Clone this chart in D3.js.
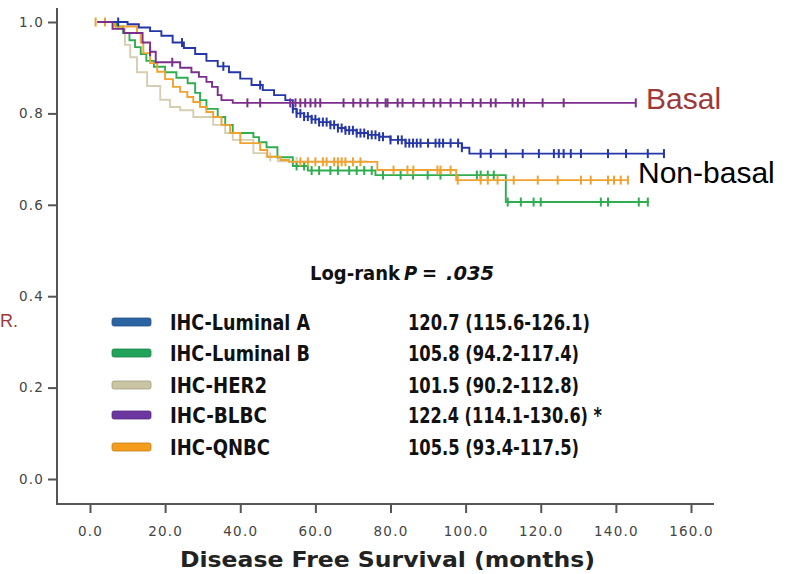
<!DOCTYPE html>
<html>
<head>
<meta charset="utf-8">
<script src="https://cdn.jsdelivr.net/npm/d3@7"></script>
<style>
  html, body { margin: 0; padding: 0; background: #fff; }
  svg { display: block; }
</style>
</head>
<body>
<svg id="chart" width="795" height="574"></svg>
<script>
// ---------- DATA ----------
const seriesNames = ["IHC-Luminal A", "IHC-Luminal B", "IHC-HER2", "IHC-BLBC", "IHC-QNBC"];
const meanLabels = ["120.7 (115.6-126.1)", "105.8 (94.2-117.4)", "101.5 (90.2-112.8)", "122.4 (114.1-130.6) *", "105.5 (93.4-117.5)"];
const xTicks = [0, 20, 40, 60, 80, 100, 120, 140, 160];
const yTicks = [0, 0.2, 0.4, 0.6, 0.8, 1.0];

// Luminal A
const lumATimes = [2, 10, 13, 16, 19, 22, 25, 28, 31, 34, 37, 40, 43, 46, 49, 52, 54, 55, 57, 59, 61, 64, 66, 68, 71, 74, 77, 80, 84, 99, 101, 153];
const lumASurv  = [1.0, 0.995, 0.988, 0.98, 0.97, 0.955, 0.943, 0.93, 0.915, 0.903, 0.89, 0.876, 0.862, 0.851, 0.84, 0.829, 0.81, 0.80, 0.793, 0.787, 0.781, 0.775, 0.768, 0.763, 0.757, 0.753, 0.749, 0.742, 0.735, 0.725, 0.712, 0.712];
const lumACens  = [7.5, 24.5, 35.5, 45.3, 54, 55, 56, 57, 58, 59, 60, 61, 62, 63, 64, 65, 66, 67, 68, 69, 70, 71, 72, 73, 74, 75, 76, 77, 78, 80, 82, 83, 84, 85, 86, 87, 88, 90, 92, 93, 94, 96, 98, 99, 104, 106.7, 110.7, 115.2, 119.5, 123.5, 124.8, 126.1, 128, 130.7, 137.9, 142.7, 148.5, 152.8];

// Luminal B
const lumBTimes = [2, 7, 8.8, 10.5, 12, 13.5, 15, 17, 20, 23, 26, 28, 29.3, 31, 34, 36, 38, 43.5, 45, 47, 49.9, 54, 58, 76, 110.7, 148.8];
const lumBSurv  = [1.0, 0.99, 0.976, 0.96, 0.945, 0.93, 0.915, 0.902, 0.89, 0.878, 0.866, 0.845, 0.829, 0.81, 0.792, 0.775, 0.757, 0.748, 0.737, 0.726, 0.704, 0.685, 0.675, 0.665, 0.606, 0.606];
const lumBCens  = [55, 57, 59, 61, 64, 66, 69, 71, 73, 75, 78, 82.7, 86, 89.9, 93.3, 103, 104, 105.9, 107.5, 111.2, 114.7, 118.1, 120, 136, 137.9, 146.1, 148.5];

// HER2
const her2Times = [2, 7.5, 9.3, 10.7, 12.5, 15.2, 18.7, 21.3, 24, 27.5, 32.8, 36, 38, 43.5, 47, 50, 74];
const her2Surv  = [1.0, 0.985, 0.95, 0.923, 0.89, 0.86, 0.83, 0.814, 0.807, 0.792, 0.775, 0.757, 0.742, 0.713, 0.705, 0.695, 0.695];
const her2Cens  = [48, 55];

// BLBC
const blbcTimes = [2, 6, 9, 14, 16, 17.5, 24, 27, 29, 31, 32.5, 34, 35, 38, 145.3];
const blbcSurv  = [1.0, 0.985, 0.976, 0.955, 0.935, 0.912, 0.90, 0.89, 0.88, 0.869, 0.858, 0.84, 0.829, 0.823, 0.823];
const blbcCens  = [16, 21.9, 41.9, 45.3, 53.3, 54.7, 56, 57.3, 58.7, 60, 61.3, 67.5, 70.1, 72, 73.9, 76.5, 78.7, 79.2, 81.9, 83.2, 86.1, 88.8, 91.5, 93.3, 96, 98.7, 101.9, 104, 106.7, 108, 112.5, 113.9, 115.5, 120.5, 126.1, 145.3];

// QNBC
const qnbcTimes = [2, 6.5, 12.5, 13.5, 14.2, 16, 17.9, 20, 22.1, 24, 25.9, 27.5, 29.3, 31, 32.8, 35, 37.3, 40, 45.3, 47.2, 50.7, 53, 76.5, 97.5, 143.2];
const qnbcSurv  = [1.0, 0.99, 0.976, 0.955, 0.932, 0.91, 0.891, 0.875, 0.858, 0.847, 0.836, 0.825, 0.814, 0.803, 0.792, 0.775, 0.757, 0.735, 0.72, 0.705, 0.698, 0.694, 0.676, 0.654, 0.654];
const qnbcCens  = [1.5, 4, 56, 58, 60, 62, 63, 65, 66, 67, 68, 70, 72, 80.8, 84.5, 86.1, 92.5, 93.3, 96, 97.9, 104, 105.9, 108.5, 112.8, 119.2, 124.5, 130.7, 133.3, 137.9, 139.5, 141.3, 143.2];

// ---------- STYLE ----------
const curveColors  = ["#2537a6", "#2fae50", "#d5ceb0", "#7c2e8d", "#f0a230"];
const legendColors = ["#2c64a2", "#22a35a", "#c9c4a2", "#6b36a0", "#f39c1e"];
const legendTextLen = [140, 140, 97, 97, 100];
const meanTextLen   = [182, 171, 171, 194, 171];

const series = [
  {t: lumATimes, s: lumASurv, c: lumACens},
  {t: lumBTimes, s: lumBSurv, c: lumBCens},
  {t: her2Times, s: her2Surv, c: her2Cens},
  {t: blbcTimes, s: blbcSurv, c: blbcCens},
  {t: qnbcTimes, s: qnbcSurv, c: qnbcCens}
];
const drawOrder = [2, 1, 4, 0, 3];

const svg = d3.select("#chart");
const x = d3.scaleLinear().domain([0, 160]).range([90, 691]);
const y = d3.scaleLinear().domain([0, 1]).range([479, 22]);

const axisColor = "#555";
const labelFont = "'DejaVu Sans', sans-serif";

// Y axis
const yAxisG = svg.append("g").attr("transform", "translate(57,0)")
  .call(d3.axisLeft(y).tickValues(yTicks).tickFormat(d3.format(".1f")).tickSize(9).tickPadding(4));
yAxisG.select(".domain").remove();
yAxisG.selectAll(".tick line").attr("stroke", axisColor).attr("stroke-width", 2);
yAxisG.selectAll(".tick text").attr("fill", "#444").style("font-family", labelFont)
  .style("font-size", "13.5px").style("letter-spacing", "1.2px");
svg.append("line").attr("x1", 57).attr("x2", 57).attr("y1", 8).attr("y2", 505)
  .attr("stroke", axisColor).attr("stroke-width", 2);

// X axis
const xAxisG = svg.append("g").attr("transform", "translate(0,504)")
  .call(d3.axisBottom(x).tickValues(xTicks).tickFormat(d3.format(".1f")).tickSize(9).tickPadding(13));
xAxisG.select(".domain").remove();
xAxisG.selectAll(".tick line").attr("stroke", axisColor).attr("stroke-width", 2);
xAxisG.selectAll(".tick text").attr("fill", "#444").style("font-family", labelFont)
  .style("font-size", "13.5px").style("letter-spacing", "1.2px");
svg.append("line").attr("x1", 56).attr("x2", 714).attr("y1", 504).attr("y2", 504)
  .attr("stroke", axisColor).attr("stroke-width", 2);

// Axis title
svg.append("text").attr("x", 180).attr("y", 567)
  .attr("textLength", 415).attr("lengthAdjust", "spacingAndGlyphs")
  .style("font-family", labelFont).style("font-weight", "bold").style("font-size", "22px")
  .attr("fill", "#222").text("Disease Free Survival (months)");

// Curves
const line = d3.line().x(d => x(d[0])).y(d => y(d[1])).curve(d3.curveStepAfter);
const plot = svg.append("g");
drawOrder.forEach(i => {
  const sr = series[i];
  const pts = sr.t.map((t, k) => [t, sr.s[k]]);
  plot.append("path").datum(pts).attr("d", line)
    .attr("fill", "none").attr("stroke", curveColors[i]).attr("stroke-width", 1.9);
  const surv = t => {
    let v = sr.s[0];
    for (let k = 0; k < sr.t.length; k++) { if (sr.t[k] <= t) v = sr.s[k]; }
    return v;
  };
  plot.append("g").selectAll("line").data(sr.c).join("line")
    .attr("x1", d => x(d)).attr("x2", d => x(d))
    .attr("y1", d => y(surv(d)) - 4.5).attr("y2", d => y(surv(d)) + 4.5)
    .attr("stroke", curveColors[i]).attr("stroke-width", 2);
});

// Log-rank text (single text run, P and value italic rendered separately but adjacent)
const condFont = "'Liberation Sans Narrow', 'Arial Narrow', 'DejaVu Sans Condensed', sans-serif";
const lrStyle = sel => sel.style("font-family", condFont).style("font-weight", "bold")
  .style("font-size", "20px").attr("fill", "#111");
svg.append("text").attr("x", 310).attr("y", 280).call(lrStyle)
  .attr("textLength", 90).attr("lengthAdjust", "spacingAndGlyphs").text("Log-rank");
svg.append("text").attr("x", 404).attr("y", 280).call(lrStyle)
  .style("font-style", "italic").text("P");
svg.append("text").attr("x", 422).attr("y", 280).call(lrStyle).text("=");
svg.append("text").attr("x", 446).attr("y", 280).call(lrStyle)
  .style("font-style", "italic").attr("textLength", 48).attr("lengthAdjust", "spacingAndGlyphs").text(".035");

// Legend
const rowY = [322, 353, 385, 415, 447];
const leg = svg.append("g");
seriesNames.forEach((name, i) => {
  leg.append("rect").attr("x", 112).attr("y", rowY[i] - 4).attr("width", 39).attr("height", 8)
    .attr("rx", 2).attr("fill", legendColors[i])
    .attr("stroke", d3.color(legendColors[i]).darker(0.6)).attr("stroke-width", 0.8);
  leg.append("text").attr("x", 170).attr("y", rowY[i] + 8)
    .attr("textLength", legendTextLen[i]).attr("lengthAdjust", "spacingAndGlyphs")
    .style("font-family", condFont).style("font-weight", "bold").style("font-size", "21px")
    .attr("fill", "#111").text(name);
  leg.append("text").attr("x", 408).attr("y", rowY[i] + 8)
    .attr("textLength", meanTextLen[i]).attr("lengthAdjust", "spacingAndGlyphs")
    .style("font-family", condFont).style("font-weight", "bold").style("font-size", "21px")
    .attr("fill", "#111").text(meanLabels[i]);
});

// Annotations
const annFont = "'Liberation Sans', Arial, sans-serif";
svg.append("text").attr("x", 646).attr("y", 109)
  .style("font-family", annFont).style("font-size", "30px").attr("fill", "#9c3a3a").text("Basal");
svg.append("text").attr("x", 638).attr("y", 183)
  .style("font-family", annFont).style("font-size", "30px").attr("fill", "#000").text("Non-basal");
svg.append("text").attr("x", 0).attr("y", 327)
  .style("font-family", annFont).style("font-size", "18px").attr("fill", "#9c3a3a").text("R.");
</script>
</body>
</html>
